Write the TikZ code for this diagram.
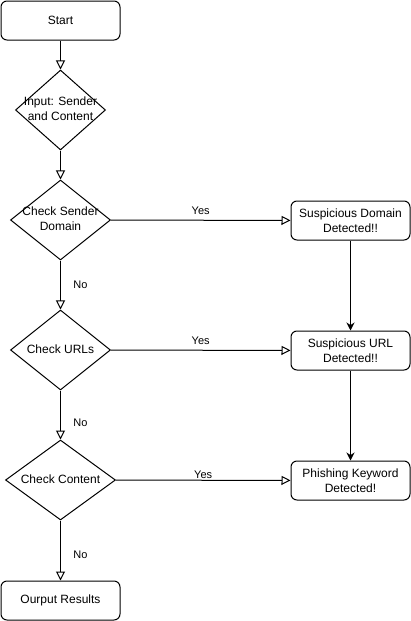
\documentclass[tikz,border=0pt]{standalone}
\usepackage{fontspec}
\setmainfont{Liberation Sans}
\usetikzlibrary{arrows.meta,shapes.geometric}

% text that may run over the edges of a diamond
\newcommand{\dtext}[1]{\makebox[0pt]{\begin{tabular}{@{}c@{}}#1\end{tabular}}}

\begin{document}
\begin{tikzpicture}[
x = 1pt, y = -1pt, % pixel grid, y runs down
> = {Triangle[open,length=9pt,width=9pt]}, % hollow arrow head
line width = 1pt, % line style
font = \fontsize{12}{15}\selectfont
]

\tikzstyle{process}=[
draw = black,
fill = white,
rounded corners = 6pt,
minimum width = 119pt,
minimum height = 39pt,
align = center,
inner sep = 2pt
]
\tikzstyle{decision}=[
draw = black,
fill = white,
diamond,
inner sep = 0pt,
minimum height = 80pt
]
\tikzstyle{small}=[font=\fontsize{11}{13}\selectfont]

\useasboundingbox (0,0) rectangle (411,621);

\node[process] (start) at (60.5,20.5) {Start};
\node[decision, minimum width=90pt] (input) at (60.5,110) {\dtext{Input: Sender\\and Content}};
\node[decision, minimum width=100pt] (sender) at (60.5,220) {\dtext{Check Sender\\Domain}};
\node[decision, minimum width=100pt] (urls) at (60.5,350) {\dtext{Check URLs}};
\node[decision, minimum width=110pt] (content) at (60.5,480) {\dtext{Check Content}};
\node[process] (output) at (60.5,600.5) {Ourput Results};

\node[process] (domain) at (350.5,220.5) {Suspicious Domain\\Detected!!};
\node[process] (url) at (350.5,350.5) {Suspicious URL\\Detected!!};
\node[process] (keyword) at (350.5,480.5) {Phishing Keyword\\Detected!};


\path[->] (start) edge (input);
\path[->] (input) edge (sender);

\path[->] (sender) edge node[small,above=2pt] {Yes} (domain);
\path[->] (urls) edge node[small,above=2pt] {Yes} (url);
\path[->] (content) edge node[small,above,inner sep=1pt] {Yes} (keyword);

\path[->] (sender) edge node[small,right=9pt] {No} (urls);
\path[->] (urls) edge node[small,right=9pt,pos=0.66] {No} (content);
\path[->] (content) edge node[small,right=9pt,pos=0.57] {No} (output);

\path[-{Stealth[length=8pt,width=8pt]}] (domain) edge (url);
\path[-{Stealth[length=8pt,width=8pt]}] (url) edge (keyword);


\end{tikzpicture}
\end{document}
